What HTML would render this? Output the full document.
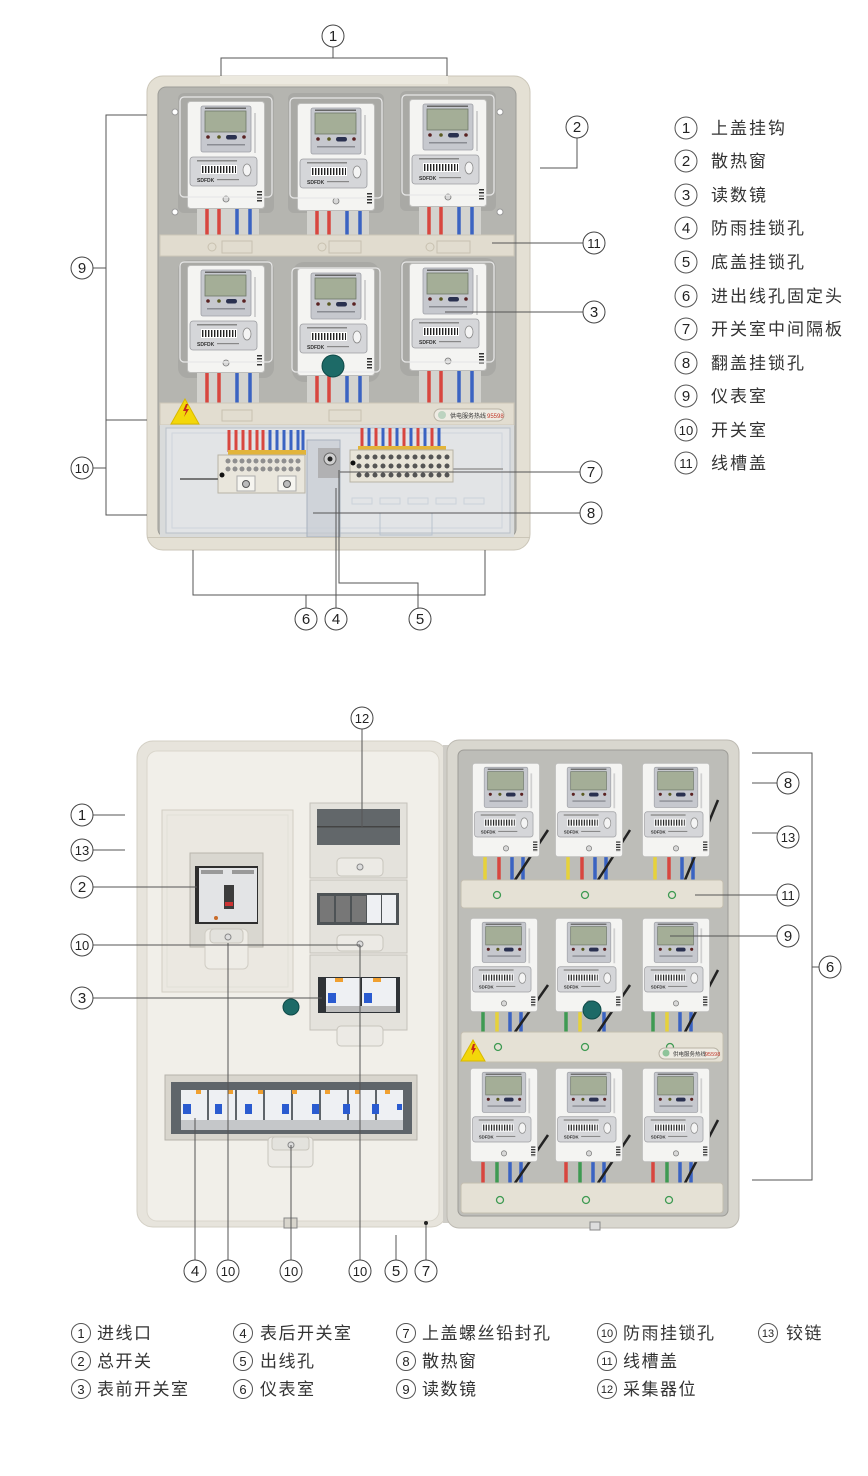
<!DOCTYPE html>
<html><head><meta charset="utf-8"><style>
html,body{margin:0;padding:0;background:#fff;}
svg{display:block;}
text{font-family:"Liberation Sans","Noto Sans CJK SC",sans-serif;}
</style></head><body>
<svg width="868" height="1476" viewBox="0 0 868 1476" xmlns="http://www.w3.org/2000/svg">
<defs>
<pattern id="bc" width="3" height="10" patternUnits="userSpaceOnUse"><rect width="1.4" height="10" fill="#222"/></pattern>
<pattern id="vent" width="5" height="3" patternUnits="userSpaceOnUse"><rect width="5" height="1.5" fill="#333"/></pattern>
<symbol id="meter" viewBox="0 0 78 108">
 <rect x="0.5" y="0.5" width="77" height="107" rx="3" fill="#f4f4f2" stroke="#bdbdbb"/>
 <rect x="14" y="5" width="50" height="46" rx="2" fill="#c6c8ce" stroke="#9ea0a6" stroke-width="0.8"/>
 <rect x="18" y="6.5" width="41" height="1.5" fill="#666"/>
 <rect x="18" y="10" width="41" height="21" fill="#a4ae97" stroke="#6f7868" stroke-width="0.8"/>
 <circle cx="21" cy="36" r="1.8" fill="#5a2222"/>
 <circle cx="32" cy="36" r="1.8" fill="#5a5a22"/>
 <rect x="39" y="34" width="11" height="4.5" rx="2.2" fill="#2a3150"/>
 <circle cx="57" cy="36" r="1.8" fill="#5a2222"/>
 <rect x="20" y="43" width="38" height="1.5" fill="#8a8c93"/>
 <rect x="67" y="12" width="2" height="40" fill="#d0d0d0"/>
 <rect x="3" y="56" width="67" height="29" rx="3" fill="#d5d6d9" stroke="#9c9da1" stroke-width="0.8"/>
 <rect x="10" y="59" width="40" height="1.5" fill="#888"/>
 <rect x="14" y="64" width="36" height="9" fill="#fff"/>
 <rect x="15" y="65" width="34" height="7" fill="url(#bc)"/>
 <ellipse cx="60" cy="69" rx="4" ry="6" fill="#f4f4f4" stroke="#8a8a8a" stroke-width="0.8"/>
 <text x="10" y="81" font-size="5" fill="#333" font-weight="bold">SDFDK</text>
 <rect x="30" y="78" width="22" height="1.2" fill="#888"/>
 <circle cx="39" cy="98" r="3" fill="#d8d8d8" stroke="#777" stroke-width="0.8"/>
 <rect x="70" y="90" width="5" height="12" fill="url(#vent)"/>
</symbol>
</defs>

<!-- ================= TOP DIAGRAM ================= -->
<rect x="147" y="76" width="383" height="474" rx="16" fill="#e4e0d4" stroke="#cbc6b8"/>
<rect x="158" y="87" width="358" height="450" rx="8" fill="#b5b5b0" stroke="#9d9d98"/>
<rect x="220" y="76" width="228" height="8" fill="#ece9df"/>
<rect x="178" y="93" width="96" height="120" rx="6" fill="#a9a9a5"/>
<rect x="288" y="93" width="96" height="120" rx="6" fill="#a9a9a5"/>
<rect x="400" y="91" width="96" height="120" rx="6" fill="#a9a9a5"/>
<rect x="178" y="260" width="96" height="118" rx="10" fill="#a9a9a5"/>
<rect x="292" y="262" width="88" height="120" rx="12" fill="#a9a9a5"/>
<rect x="400" y="258" width="96" height="118" rx="10" fill="#a9a9a5"/>
<g>
<rect x="197" y="208" width="62" height="28" fill="#d3d3cf"/>
<rect x="307" y="208" width="62" height="28" fill="#d3d3cf"/>
<rect x="419" y="206" width="62" height="30" fill="#d3d3cf"/>
<rect x="197" y="370" width="62" height="34" fill="#d3d3cf"/>
<rect x="307" y="374" width="62" height="30" fill="#d3d3cf"/>
<rect x="419" y="370" width="62" height="34" fill="#d3d3cf"/>
</g>
<g stroke-width="3.5">
<path d="M207 208V236M219 208V236M317 208V236M329 208V236M429 206V236M441 206V236M207 370V404M219 370V404M317 374V404M329 374V404M429 370V404M441 370V404" stroke="#d8463f"/>
<path d="M237 208V236M250 208V236M347 208V236M360 208V236M459 206V236M472 206V236M237 370V404M250 370V404M347 374V404M360 374V404M459 370V404M472 370V404" stroke="#3a63c2"/>
</g>
<use href="#meter" x="187" y="101" width="78" height="108"/>
<use href="#meter" x="297" y="103" width="78" height="108"/>
<use href="#meter" x="409" y="99" width="78" height="108"/>
<use href="#meter" x="187" y="265" width="78" height="108"/>
<use href="#meter" x="297" y="268" width="78" height="108"/>
<use href="#meter" x="409" y="263" width="78" height="108"/>
<g fill="none" stroke="#e8e8e8" stroke-width="1.2">
<rect x="180" y="97" width="92" height="100" rx="4"/>
<rect x="290" y="98" width="92" height="100" rx="4"/>
<rect x="402" y="95" width="92" height="100" rx="4"/>
<rect x="180" y="262" width="92" height="100" rx="4"/>
<rect x="292" y="268" width="88" height="104" rx="4"/>
<rect x="402" y="262" width="92" height="100" rx="4"/>
</g>
<circle cx="333" cy="366" r="11" fill="#1d6a67" stroke="#0f4a48"/>
<g fill="#fff" stroke="#999"><circle cx="175" cy="112" r="3"/><circle cx="500" cy="112" r="3"/><circle cx="500" cy="212" r="3"/><circle cx="175" cy="212" r="3"/></g>
<rect x="160" y="235" width="354" height="21" fill="#e1dccf" stroke="#cdc7b8"/>
<g fill="none" stroke="#c8c1b0"><rect x="222" y="241" width="30" height="12"/><rect x="329" y="241" width="32" height="12"/><rect x="437" y="241" width="33" height="12"/>
<circle cx="212" cy="247" r="4"/><circle cx="322" cy="247" r="4"/><circle cx="430" cy="247" r="4"/></g>
<rect x="160" y="403" width="354" height="22" fill="#e2ddd0" stroke="#cdc7b8"/>
<polygon points="171,424 185,399 199,424" fill="#f3d70a" stroke="#d8b900"/>
<path d="M186 404l-3 7h3l-2 6 5-8h-3l2-5z" fill="#c62a1c"/>
<g fill="none" stroke="#c8c1b0"><rect x="222" y="410" width="30" height="11"/><rect x="329" y="410" width="32" height="11"/></g>
<rect x="434" y="409" width="70" height="12" rx="6" fill="#eeebe3" stroke="#b9b3a5"/>
<circle cx="442" cy="415" r="4" fill="#bcd3c0"/>
<text x="450" y="418" font-size="6" fill="#333">供电服务热线</text>
<text x="487" y="418" font-size="6" fill="#c0392b">95598</text>
<rect x="160" y="425" width="354" height="112" fill="#d9dbdb"/>
<rect x="166" y="428" width="344" height="105" fill="#e2e4e6" stroke="#b9c0c8"/>
<rect x="172" y="433" width="330" height="95" fill="none" stroke="#cfd5dc"/>
<g stroke-width="3">
<path d="M229 430V452M236 430V452M243 430V452M250 430V452M257 430V452M263 430V452" stroke="#d8463f"/>
<path d="M270 430V452M277 430V452M284 430V452M291 430V452M298 430V452M303 430V452" stroke="#3a63c2"/>
<path d="M362 428V448M376 428V448M390 428V448M404 428V448M418 428V448M432 428V448" stroke="#d8463f"/>
<path d="M369 428V448M383 428V448M397 428V448M411 428V448M425 428V448M439 428V448" stroke="#3a63c2"/>
</g>
<g fill="#e2b43a"><rect x="228" y="450" width="78" height="5"/><rect x="358" y="446" width="88" height="5"/></g>
<rect x="218" y="455" width="87" height="38" fill="#e9e6dc" stroke="#b8b3a6"/>
<g fill="#8f8f8f">
<circle cx="228" cy="461" r="2.5"/><circle cx="235" cy="461" r="2.5"/><circle cx="242" cy="461" r="2.5"/><circle cx="249" cy="461" r="2.5"/><circle cx="256" cy="461" r="2.5"/><circle cx="263" cy="461" r="2.5"/><circle cx="270" cy="461" r="2.5"/><circle cx="277" cy="461" r="2.5"/><circle cx="284" cy="461" r="2.5"/><circle cx="291" cy="461" r="2.5"/><circle cx="298" cy="461" r="2.5"/>
<circle cx="228" cy="469" r="2.5"/><circle cx="235" cy="469" r="2.5"/><circle cx="242" cy="469" r="2.5"/><circle cx="249" cy="469" r="2.5"/><circle cx="256" cy="469" r="2.5"/><circle cx="263" cy="469" r="2.5"/><circle cx="270" cy="469" r="2.5"/><circle cx="277" cy="469" r="2.5"/><circle cx="284" cy="469" r="2.5"/><circle cx="291" cy="469" r="2.5"/><circle cx="298" cy="469" r="2.5"/>
</g>
<rect x="237" y="476" width="18" height="15" fill="#f6f5f0" stroke="#aaa"/><circle cx="246" cy="484" r="3.5" fill="#bbb" stroke="#555"/>
<rect x="278" y="476" width="18" height="15" fill="#f6f5f0" stroke="#aaa"/><circle cx="287" cy="484" r="3.5" fill="#bbb" stroke="#555"/>
<circle cx="222" cy="475" r="2.5" fill="#111"/>
<rect x="180" y="478" width="38" height="2" fill="#777"/>
<rect x="350" y="450" width="103" height="32" fill="#e8e4d8" stroke="#b8b3a6"/>
<g fill="#555">
<circle cx="359" cy="457" r="2.5"/><circle cx="367" cy="457" r="2.5"/><circle cx="375" cy="457" r="2.5"/><circle cx="383" cy="457" r="2.5"/><circle cx="391" cy="457" r="2.5"/><circle cx="399" cy="457" r="2.5"/><circle cx="407" cy="457" r="2.5"/><circle cx="415" cy="457" r="2.5"/><circle cx="423" cy="457" r="2.5"/><circle cx="431" cy="457" r="2.5"/><circle cx="439" cy="457" r="2.5"/><circle cx="447" cy="457" r="2.5"/>
<circle cx="359" cy="466" r="2.5"/><circle cx="367" cy="466" r="2.5"/><circle cx="375" cy="466" r="2.5"/><circle cx="383" cy="466" r="2.5"/><circle cx="391" cy="466" r="2.5"/><circle cx="399" cy="466" r="2.5"/><circle cx="407" cy="466" r="2.5"/><circle cx="415" cy="466" r="2.5"/><circle cx="423" cy="466" r="2.5"/><circle cx="431" cy="466" r="2.5"/><circle cx="439" cy="466" r="2.5"/><circle cx="447" cy="466" r="2.5"/>
<circle cx="359" cy="475" r="2.5"/><circle cx="367" cy="475" r="2.5"/><circle cx="375" cy="475" r="2.5"/><circle cx="383" cy="475" r="2.5"/><circle cx="391" cy="475" r="2.5"/><circle cx="399" cy="475" r="2.5"/><circle cx="407" cy="475" r="2.5"/><circle cx="415" cy="475" r="2.5"/><circle cx="423" cy="475" r="2.5"/><circle cx="431" cy="475" r="2.5"/><circle cx="439" cy="475" r="2.5"/><circle cx="447" cy="475" r="2.5"/>
</g>
<circle cx="353" cy="463" r="2.5" fill="#111"/>
<rect x="453" y="468" width="50" height="2" fill="#aaa"/>
<rect x="307" y="440" width="33" height="97" fill="#c7ccd3" fill-opacity="0.7" stroke="#a8b2be"/>
<rect x="318" y="448" width="22" height="30" fill="#a9a9a9" fill-opacity="0.8"/>
<circle cx="330" cy="459" r="6" fill="#d0d0d0" stroke="#666"/><circle cx="330" cy="459" r="2.5" fill="#222"/>
<rect x="380" y="513" width="52" height="22" fill="none" stroke="#b9c3cf"/>
<g fill="none" stroke="#cbd2da"><rect x="352" y="498" width="20" height="6"/><rect x="380" y="498" width="20" height="6"/><rect x="408" y="498" width="20" height="6"/><rect x="436" y="498" width="20" height="6"/><rect x="464" y="498" width="20" height="6"/></g>
<rect x="147" y="537" width="383" height="1" fill="#cbc6b8"/>

<g stroke="#555" stroke-width="1" fill="none">
<path d="M333 47V58M221 76V58H447V76"/>
<path d="M577 138V168H540"/>
<path d="M583 243H492"/>
<path d="M583 312H445"/>
<path d="M580 472H340"/>
<path d="M580 513H313"/>
<path d="M147 115H106V515H147M106 420H147M93 268H106M93 468H106"/>
<path d="M193 550V595H485V550M306 595V608"/>
<path d="M336 488V608"/>
<path d="M339 470V583H418V608"/>
</g>
<g fill="#fff" stroke="#444" stroke-width="1">
<circle cx="333" cy="36" r="11"/><circle cx="577" cy="127" r="11"/><circle cx="594" cy="243" r="11"/><circle cx="594" cy="312" r="11"/>
<circle cx="591" cy="472" r="11"/><circle cx="591" cy="513" r="11"/><circle cx="82" cy="268" r="11"/><circle cx="82" cy="468" r="11"/>
<circle cx="306" cy="619" r="11"/><circle cx="336" cy="619" r="11"/><circle cx="420" cy="619" r="11"/>
</g>
<g font-size="15" fill="#222" text-anchor="middle">
<text x="333" y="41">1</text><text x="577" y="132">2</text><text x="594" y="248" font-size="13">11</text><text x="594" y="317">3</text>
<text x="591" y="477">7</text><text x="591" y="518">8</text><text x="82" y="273">9</text><text x="82" y="473" font-size="13">10</text>
<text x="306" y="624">6</text><text x="336" y="624">4</text><text x="420" y="624">5</text>
</g>

<g fill="#fff" stroke="#555" stroke-width="1">
<circle cx="686" cy="128" r="11"/><circle cx="686" cy="161" r="11"/><circle cx="686" cy="195" r="11"/><circle cx="686" cy="228" r="11"/>
<circle cx="686" cy="262" r="11"/><circle cx="686" cy="296" r="11"/><circle cx="686" cy="329" r="11"/><circle cx="686" cy="363" r="11"/>
<circle cx="686" cy="396" r="11"/><circle cx="686" cy="430" r="11"/><circle cx="686" cy="463" r="11"/>
</g>
<g font-size="15" fill="#222" text-anchor="middle">
<text x="686" y="133">1</text><text x="686" y="166">2</text><text x="686" y="200">3</text><text x="686" y="233">4</text>
<text x="686" y="267">5</text><text x="686" y="301">6</text><text x="686" y="334">7</text><text x="686" y="368">8</text>
<text x="686" y="401">9</text><text x="686" y="435" font-size="13">10</text><text x="686" y="468" font-size="13">11</text>
</g>
<g font-size="17" fill="#333" letter-spacing="2">
<text x="711" y="134">上盖挂钩</text><text x="711" y="167">散热窗</text><text x="711" y="201">读数镜</text><text x="711" y="234">防雨挂锁孔</text>
<text x="711" y="268">底盖挂锁孔</text><text x="711" y="302">进出线孔固定头</text><text x="711" y="335">开关室中间隔板</text><text x="711" y="369">翻盖挂锁孔</text>
<text x="711" y="402">仪表室</text><text x="711" y="436">开关室</text><text x="711" y="469">线槽盖</text>
</g>

<!-- ================= BOTTOM DIAGRAM ================= -->
<rect x="137" y="741" width="310" height="486" rx="16" fill="#e7e4dc" stroke="#d3cfc4"/>
<rect x="147" y="751" width="292" height="470" rx="10" fill="#f1efe9" stroke="#dad6cc"/>
<rect x="162" y="810" width="131" height="182" fill="#ebe8e1" stroke="#d2cec3"/>
<rect x="167" y="815" width="121" height="172" fill="none" stroke="#e2dfd7"/>
<rect x="190" y="853" width="73" height="94" fill="#d9d7d0" stroke="#b9b6ad"/>
<rect x="195" y="866" width="63" height="58" fill="#2e2e2e"/>
<rect x="199" y="868" width="58" height="54" fill="#e3e4e6"/>
<rect x="201" y="870" width="22" height="4" fill="#999"/><rect x="232" y="870" width="22" height="4" fill="#999"/>
<rect x="224" y="885" width="10" height="24" fill="#3c3c3c"/><rect x="225" y="902" width="8" height="4" fill="#c33"/>
<circle cx="216" cy="918" r="2" fill="#c86b2a"/>
<rect x="205" y="929" width="43" height="40" rx="5" fill="#eeece6" stroke="#d0cdc4"/>
<rect x="210" y="929" width="33" height="14" rx="4" fill="#e3e2dd" stroke="#c9c6bd"/>
<circle cx="228" cy="937" r="3" fill="#ddd" stroke="#888"/>
<rect x="310" y="803" width="97" height="75" fill="#e4e2dc" stroke="#c5c2ba"/>
<rect x="317" y="809" width="83" height="36" fill="#62676a"/>
<rect x="317" y="826" width="83" height="1.5" fill="#444"/>
<rect x="337" y="858" width="46" height="18" rx="4" fill="#eceae5" stroke="#c8c5bd"/>
<circle cx="360" cy="867" r="3" fill="#ddd" stroke="#888"/>
<rect x="310" y="880" width="97" height="73" fill="#e4e2dc" stroke="#c5c2ba"/>
<rect x="317" y="893" width="82" height="32" fill="#4e5356"/>
<rect x="320" y="896" width="14" height="26" fill="#777"/><rect x="336" y="896" width="14" height="26" fill="#777"/><rect x="352" y="896" width="14" height="26" fill="#777"/>
<rect x="367" y="895" width="14" height="28" fill="#eef0f3"/><rect x="382" y="895" width="14" height="28" fill="#eef0f3"/>
<rect x="337" y="935" width="46" height="16" rx="4" fill="#eceae5" stroke="#c8c5bd"/>
<circle cx="360" cy="944" r="3" fill="#ddd" stroke="#888"/>
<rect x="310" y="955" width="97" height="75" fill="#e4e2dc" stroke="#c5c2ba"/>
<rect x="318" y="977" width="82" height="36" fill="#2f3337"/>
<rect x="326" y="978" width="34" height="28" fill="#eef0f3"/><rect x="362" y="978" width="34" height="28" fill="#eef0f3"/>
<rect x="335" y="978" width="8" height="4" fill="#f0a030"/><rect x="373" y="978" width="8" height="4" fill="#f0a030"/>
<rect x="328" y="993" width="8" height="10" fill="#2a5bd0"/><rect x="364" y="993" width="8" height="10" fill="#2a5bd0"/>
<rect x="326" y="1006" width="70" height="6" fill="#bbb"/>
<rect x="337" y="1026" width="46" height="20" rx="4" fill="#eceae5" stroke="#c8c5bd"/>
<circle cx="291" cy="1007" r="8" fill="#1d6a67" stroke="#0f4a48"/>
<rect x="165" y="1075" width="252" height="65" fill="#d8d5cd" stroke="#b6b3ab"/>
<rect x="171" y="1082" width="241" height="52" fill="#5f656a"/>
<g fill="#eef0f3">
<rect x="181" y="1090" width="26" height="30"/><rect x="209" y="1090" width="26" height="30"/><rect x="237" y="1090" width="26" height="30"/><rect x="265" y="1090" width="26" height="30"/>
<rect x="293" y="1090" width="26" height="30"/><rect x="321" y="1090" width="26" height="30"/><rect x="349" y="1090" width="26" height="30"/><rect x="377" y="1090" width="26" height="30"/>
</g>
<g fill="#2a5bd0">
<rect x="183" y="1104" width="8" height="10"/><rect x="215" y="1104" width="7" height="10"/><rect x="245" y="1104" width="7" height="10"/><rect x="282" y="1104" width="7" height="10"/>
<rect x="312" y="1104" width="7" height="10"/><rect x="343" y="1104" width="7" height="10"/><rect x="372" y="1104" width="7" height="10"/><rect x="397" y="1104" width="5" height="6"/>
</g>
<g fill="#f0a030"><rect x="196" y="1090" width="5" height="4"/><rect x="228" y="1090" width="5" height="4"/><rect x="258" y="1090" width="5" height="4"/><rect x="292" y="1090" width="5" height="4"/><rect x="325" y="1090" width="5" height="4"/><rect x="355" y="1090" width="5" height="4"/><rect x="385" y="1090" width="5" height="4"/></g>
<rect x="181" y="1120" width="222" height="10" fill="#c5c7c9"/>
<rect x="268" y="1137" width="45" height="30" rx="4" fill="#eceae5" stroke="#c8c5bd"/>
<rect x="272" y="1137" width="37" height="13" rx="3" fill="#e3e2dd" stroke="#c9c6bd"/>
<circle cx="291" cy="1145" r="3" fill="#ddd" stroke="#888"/>
<rect x="284" y="1218" width="13" height="10" fill="#d8d5cc" stroke="#888"/>
<circle cx="426" cy="1223" r="2" fill="#222"/>

<rect x="443" y="745" width="6" height="478" fill="#cfcdc7"/>

<rect x="447" y="740" width="292" height="488" rx="12" fill="#d9d7cf" stroke="#bdbab2"/>
<rect x="458" y="750" width="270" height="466" rx="6" fill="#bdbdb8" stroke="#9d9c97"/>
<g stroke-width="3.5">
<path d="M485 856V882M568 856V882M655 856V882" stroke="#e6d23a"/>
<path d="M499 856V882M582 856V882M669 856V882" stroke="#d8463f"/>
<path d="M512 856V882M523 856V882M595 856V882M606 856V882M682 856V882M693 856V882" stroke="#3a63c2"/>
<path d="M483 1010V1034M566 1010V1034M653 1010V1034" stroke="#3e9a52"/>
<path d="M497 1010V1034M580 1010V1034M667 1010V1034" stroke="#e6d23a"/>
<path d="M510 1010V1034M521 1010V1034M604 1010V1034M680 1010V1034M691 1010V1034" stroke="#3a63c2"/>
<path d="M483 1160V1185M566 1160V1185M653 1160V1185" stroke="#d8463f"/>
<path d="M497 1160V1185M580 1160V1185M667 1160V1185" stroke="#3e9a52"/>
<path d="M510 1160V1185M521 1160V1185M593 1160V1185M604 1160V1185M680 1160V1185M691 1160V1185" stroke="#3a63c2"/>
</g>
<g stroke="#222" stroke-width="2.5" fill="none">
<path d="M515 880L548 830M598 880L630 830M685 880L718 800M515 1032L548 985M598 1032L630 985M685 1032L718 970M515 1183L548 1135M598 1183L630 1135M685 1183L718 1120"/>
</g>
<use href="#meter" x="472" y="762" width="68" height="96"/>
<use href="#meter" x="555" y="762" width="68" height="96"/>
<use href="#meter" x="642" y="762" width="68" height="96"/>
<use href="#meter" x="470" y="917" width="68" height="96"/>
<use href="#meter" x="555" y="917" width="68" height="96"/>
<use href="#meter" x="642" y="917" width="68" height="96"/>
<use href="#meter" x="470" y="1067" width="68" height="96"/>
<use href="#meter" x="555" y="1067" width="68" height="96"/>
<use href="#meter" x="642" y="1067" width="68" height="96"/>
<circle cx="592" cy="1010" r="9" fill="#1d6a67" stroke="#0f4a48"/>
<g fill="#e5e1d5" stroke="#c4beb0">
<rect x="461" y="880" width="262" height="28" rx="3"/>
<rect x="461" y="1032" width="262" height="30" rx="3"/>
<rect x="461" y="1183" width="262" height="30" rx="3"/>
</g>
<g fill="none" stroke="#3e9a52" stroke-width="1.3">
<circle cx="497" cy="895" r="3.5"/><circle cx="585" cy="895" r="3.5"/><circle cx="672" cy="895" r="3.5"/>
<circle cx="498" cy="1047" r="3.5"/><circle cx="585" cy="1047" r="3.5"/><circle cx="670" cy="1047" r="3.5"/>
<circle cx="500" cy="1200" r="3.5"/><circle cx="586" cy="1200" r="3.5"/><circle cx="669" cy="1200" r="3.5"/>
</g>
<polygon points="461,1061 473,1040 485,1061" fill="#f3d70a" stroke="#d8b900"/>
<path d="M473 1044l-2 6h2l-1 5 4-7h-2l1-4z" fill="#c62a1c"/>
<rect x="659" y="1048" width="60" height="11" rx="5.5" fill="#eeebe3" stroke="#b9b3a5"/>
<circle cx="666" cy="1053" r="3.5" fill="#8ec49a"/>
<text x="673" y="1056" font-size="5.5" fill="#333">供电服务热线</text>
<text x="705" y="1056" font-size="5.5" fill="#c0392b">95598</text>
<rect x="590" y="1222" width="10" height="8" fill="#ddd" stroke="#888"/>

<g stroke="#555" stroke-width="1" fill="none">
<path d="M362 729V827"/>
<path d="M93 815H125M93 850H125M93 887H197M93 945H360M93 998H322"/>
<path d="M195 1118V1260M228 943V1260M291 1145V1260M360 945V1260M396 1235V1260M426 1225V1260"/>
<path d="M777 783H752M777 833H752M777 895H695M777 936H670"/>
<path d="M752 753H812V1180H752M812 967H819"/>
</g>
<g fill="#fff" stroke="#444" stroke-width="1">
<circle cx="362" cy="718" r="11"/><circle cx="82" cy="815" r="11"/><circle cx="82" cy="850" r="11"/><circle cx="82" cy="887" r="11"/>
<circle cx="82" cy="945" r="11"/><circle cx="82" cy="998" r="11"/>
<circle cx="195" cy="1271" r="11"/><circle cx="228" cy="1271" r="11"/><circle cx="291" cy="1271" r="11"/><circle cx="360" cy="1271" r="11"/>
<circle cx="396" cy="1271" r="11"/><circle cx="426" cy="1271" r="11"/>
<circle cx="788" cy="783" r="11"/><circle cx="788" cy="837" r="11"/><circle cx="788" cy="895" r="11"/><circle cx="788" cy="936" r="11"/><circle cx="830" cy="967" r="11"/>
</g>
<g font-size="15" fill="#222" text-anchor="middle">
<text x="362" y="723" font-size="13">12</text><text x="82" y="820">1</text><text x="82" y="855" font-size="13">13</text><text x="82" y="892">2</text>
<text x="82" y="950" font-size="13">10</text><text x="82" y="1003">3</text>
<text x="195" y="1276">4</text><text x="228" y="1276" font-size="13">10</text><text x="291" y="1276" font-size="13">10</text><text x="360" y="1276" font-size="13">10</text>
<text x="396" y="1276">5</text><text x="426" y="1276">7</text>
<text x="788" y="788">8</text><text x="788" y="842" font-size="13">13</text><text x="788" y="900" font-size="13">11</text><text x="788" y="941">9</text><text x="830" y="972">6</text>
</g>

<g fill="#fff" stroke="#555" stroke-width="1">
<circle cx="81" cy="1333" r="9.5"/><circle cx="81" cy="1361" r="9.5"/><circle cx="81" cy="1389" r="9.5"/>
<circle cx="243" cy="1333" r="9.5"/><circle cx="243" cy="1361" r="9.5"/><circle cx="243" cy="1389" r="9.5"/>
<circle cx="406" cy="1333" r="9.5"/><circle cx="406" cy="1361" r="9.5"/><circle cx="406" cy="1389" r="9.5"/>
<circle cx="607" cy="1333" r="9.5"/><circle cx="607" cy="1361" r="9.5"/><circle cx="607" cy="1389" r="9.5"/>
<circle cx="768" cy="1333" r="9.5"/>
</g>
<g font-size="13" fill="#222" text-anchor="middle">
<text x="81" y="1338">1</text><text x="81" y="1366">2</text><text x="81" y="1394">3</text>
<text x="243" y="1338">4</text><text x="243" y="1366">5</text><text x="243" y="1394">6</text>
<text x="406" y="1338">7</text><text x="406" y="1366">8</text><text x="406" y="1394">9</text>
<text x="607" y="1337" font-size="11">10</text><text x="607" y="1365" font-size="11">11</text><text x="607" y="1393" font-size="11">12</text>
<text x="768" y="1337" font-size="11">13</text>
</g>
<g font-size="17" fill="#333" letter-spacing="1.5">
<text x="97" y="1339">进线口</text><text x="97" y="1367">总开关</text><text x="97" y="1395">表前开关室</text>
<text x="260" y="1339">表后开关室</text><text x="260" y="1367">出线孔</text><text x="260" y="1395">仪表室</text>
<text x="422" y="1339">上盖螺丝铅封孔</text><text x="422" y="1367">散热窗</text><text x="422" y="1395">读数镜</text>
<text x="623" y="1339">防雨挂锁孔</text><text x="623" y="1367">线槽盖</text><text x="623" y="1395">采集器位</text>
<text x="786" y="1339">铰链</text>
</g>
</svg>
</body></html>
